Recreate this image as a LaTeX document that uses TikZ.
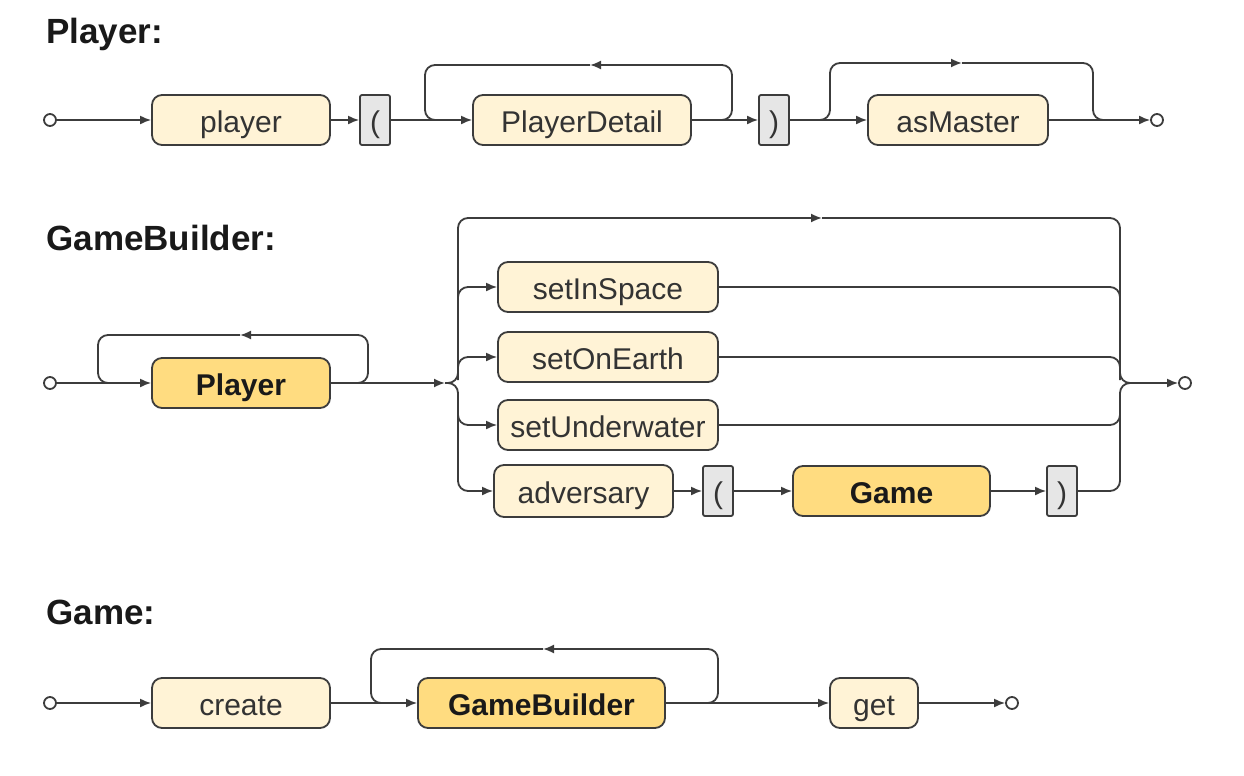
\documentclass[tikz,border=0pt]{standalone}
\usepackage{fontspec}
\setmainfont{Liberation Sans}
\usetikzlibrary{arrows.meta}
\definecolor{termfill}{HTML}{FFF3D6}
\definecolor{ntfill}{HTML}{FFDC80}
\definecolor{grayfill}{HTML}{E6E6E6}
\definecolor{edgec}{HTML}{3C3C3C}
\begin{document}
\begin{tikzpicture}[x=0.5pt,y=-0.5pt,
 box/.style={draw=edgec, line width=0.9pt, rounded corners=5pt, minimum height=25pt, inner sep=0pt, text height=12.5pt, text depth=0.5pt, font=\fontsize{15}{18}\selectfont},
 term/.style={box, fill=termfill, text=black!80},
 nterm/.style={box, fill=ntfill, font=\fontsize{15}{18}\selectfont\bfseries, text=black!90},
 tok/.style={box, rounded corners=1pt, fill=grayfill, minimum width=15pt, text=black!80},
 endc/.style={circle, draw=edgec, line width=0.9pt, fill=white, minimum size=6pt, inner sep=0pt},
 line/.style={draw=edgec, line width=0.9pt},
 arr/.style={line, -{Latex[length=5.5pt,width=4.5pt]}},
 title/.style={anchor=base west, inner sep=0pt, font=\fontsize{17.5}{21}\selectfont\bfseries, text=black!90},
 rc/.style={rounded corners=5pt}
]
\fill[white] (0,0) rectangle (1244,776);
\useasboundingbox (0,0) rectangle (1244,776);

% titles
\node[title] (t1) at (46,43) {Player:};
\node[title] (t2) at (46,250) {GameBuilder:};
\node[title] (t3) at (46,624) {Game:};

% ---------- Player ----------
\node[endc] (s1) at (50,120) {};
\node[term, minimum width=89pt] (player) at (241,120) {player};
\node[tok] (lp1) at (375,120) {(};
\node[term, minimum width=109pt] (pd) at (582,120) {PlayerDetail};
\node[tok] (rp1) at (774,120) {)};
\node[term, minimum width=90pt] (am) at (958,120) {asMaster};
\node[endc] (e1) at (1157,120) {};

\coordinate (pdR) at (732,65);
\coordinate (pdA) at (590,65);
\coordinate (pdL) at (425,65);
\coordinate (pdJ) at (445,120);
\coordinate (amJ) at (812,120);
\coordinate (amL) at (830,63);
\coordinate (amA) at (962,63);
\coordinate (amR) at (1093,63);
\coordinate (amK) at (1110,120);

\draw[arr] (s1) -- (player);
\draw[arr] (player) -- (lp1);
\draw[arr] (lp1) -- (pd);
\draw[arr] (pd) -- (rp1);
\draw[arr,rc] (pd.east) -| (pdR) -- (pdA);
\draw[line,rc] (pdA) -- (pdL) |- (pdJ);
\draw[arr] (rp1) -- (am);
\draw[arr,rc] (amJ) -| (amL) -- (amA);
\draw[line,rc] (amA) -- (amR) |- (amK);
\draw[arr] (am) -- (e1);

% ---------- GameBuilder ----------
\node[endc] (s2) at (50,383) {};
\node[nterm, minimum width=89pt] (gp) at (241,383) {Player};
\node[term, minimum width=110pt] (sis) at (608,287) {setInSpace};
\node[term, minimum width=110pt] (soe) at (608,357) {setOnEarth};
\node[term, minimum width=110pt] (suw) at (608,425) {setUnderwater};
\node[term, minimum width=89.5pt, minimum height=26pt] (adv) at (583.5,491) {adversary};
\node[tok] (lp2) at (718,491) {(};
\node[nterm, minimum width=98.5pt] (game) at (891.5,491) {Game};
\node[tok] (rp2) at (1062,491) {)};
\node[endc] (e2) at (1185,383) {};

\coordinate (gpR) at (368,335);
\coordinate (gpA) at (240,335);
\coordinate (gpL) at (98,335);
\coordinate (gpJ) at (118,383);
\coordinate (jL) at (445,383);
\coordinate (tTop) at (458,218);
\coordinate (tA) at (822,218);
\coordinate (tR) at (1120,218);
\coordinate (tBot) at (458,491);
\coordinate (jR) at (1132,383);
\coordinate (b1) at (458,310);
\coordinate (b2) at (458,380);
\coordinate (b3) at (458,400);
\coordinate (c1) at (1120,310);
\coordinate (c2) at (1120,380);
\coordinate (c3) at (1120,400);
\coordinate (tB) at (1120,491);

\draw[arr] (s2) -- (gp);
\draw[arr,rc] (gp.east) -| (gpR) -- (gpA);
\draw[line,rc] (gpA) -- (gpL) |- (gpJ);
\draw[arr] (gp) -- (jL);
\draw[arr,rc] (jL) -| (tTop) -- (tA);
\draw[line,rc] (tA) -- (tR) |- (jR);
\draw[arr,rc] (b1) |- (sis.west);
\draw[arr,rc] (b2) |- (soe.west);
\draw[arr,rc] (b3) |- (suw.west);
\draw[arr,rc] (jL) -| (tBot) -- (adv.west);
\draw[line,rc] (sis.east) -| (c1);
\draw[line,rc] (soe.east) -| (c2);
\draw[line,rc] (suw.east) -| (c3);
\draw[arr] (adv) -- (lp2);
\draw[arr] (lp2) -- (game);
\draw[arr] (game) -- (rp2);
\draw[line,rc] (rp2.east) -- (tB) |- (jR);
\draw[arr] (jR) -- (e2);

% ---------- Game ----------
\node[endc] (s3) at (50,703) {};
\node[term, minimum width=89pt] (create) at (241,703) {create};
\node[nterm, minimum width=123.5pt] (gb) at (541.5,703) {GameBuilder};
\node[term, minimum width=44pt] (get) at (874,703) {get};
\node[endc] (e3) at (1012,703) {};

\coordinate (gbR) at (718,649);
\coordinate (gbA) at (543,649);
\coordinate (gbL) at (371,649);
\coordinate (gbJ) at (391,703);

\draw[arr] (s3) -- (create);
\draw[arr] (create) -- (gb);
\draw[arr,rc] (gb.east) -| (gbR) -- (gbA);
\draw[line,rc] (gbA) -- (gbL) |- (gbJ);
\draw[arr] (gb) -- (get);
\draw[arr] (get) -- (e3);
\end{tikzpicture}
\end{document}
